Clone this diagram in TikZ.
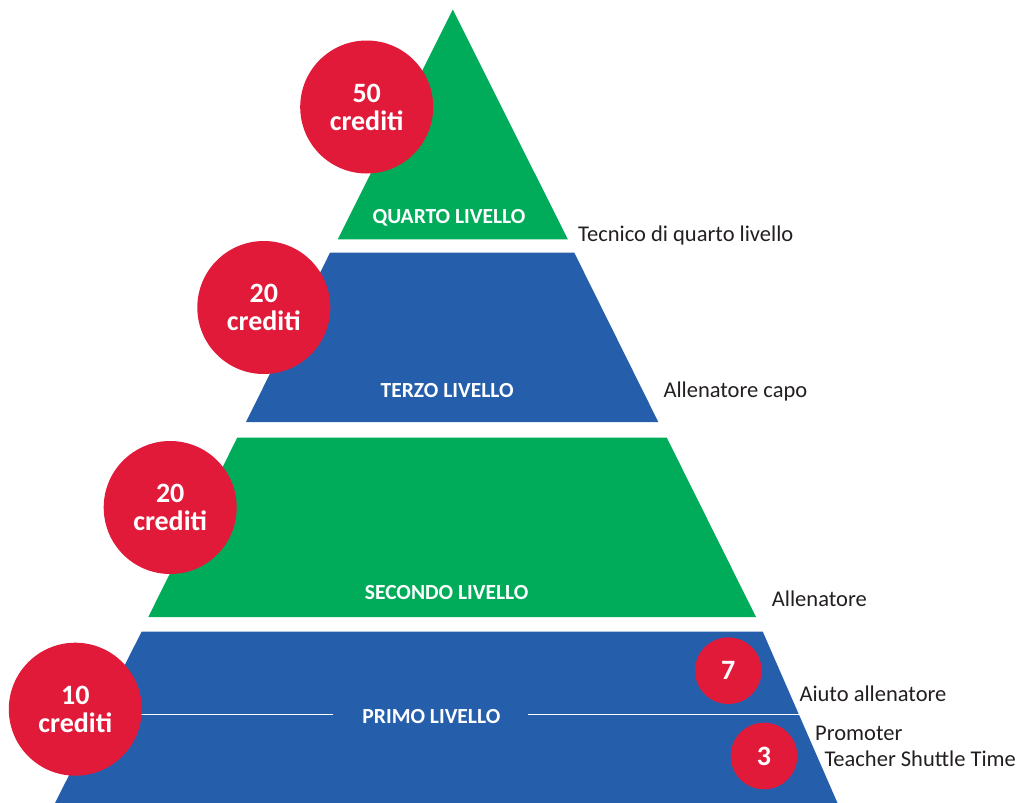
\documentclass[tikz,border=0pt]{standalone}
\usepackage{fontspec}
\setmainfont{Carlito}
\definecolor{lvgreen}{RGB}{0,171,89}
\definecolor{lvblue}{RGB}{37,94,171}
\definecolor{credred}{RGB}{226,26,58}
\definecolor{txtgray}{RGB}{35,31,32}
\begin{document}
\begin{tikzpicture}[x=1pt,y=-1pt,
  lvl/.style={text=white,font=\bfseries\fontsize{21.5}{22}\selectfont,inner sep=0pt},
  role/.style={text=txtgray,font=\fontsize{22.5}{23}\selectfont,inner sep=0pt,anchor=base west},
  credit/.style={circle,fill=credred,text=white,inner sep=0pt,minimum size=133pt,align=center,font=\bfseries\fontsize{28}{28}\selectfont},
  smallcredit/.style={circle,fill=credred,text=white,inner sep=0pt,minimum size=66.6pt,font=\bfseries\fontsize{28}{28}\selectfont},
  sep/.style={draw=white,line width=1.2pt}]
\useasboundingbox (0,0) rectangle (1021,803);
% levels
\fill[lvgreen] (452.8,9.5) -- (567.8,239.3) -- (337.8,239.3) -- cycle;
\fill[lvblue] (330,252.7) -- (574.3,252.7) -- (658.3,422) -- (246,422) -- cycle;
\fill[lvgreen] (237.3,437.5) -- (666.7,437.5) -- (756,617) -- (148.3,617) -- cycle;
\fill[lvblue] (141.7,631.5) -- (762.7,631.5) -- (837.5,803) -- (55,803) -- cycle;
% separator line in first level
\coordinate (s1) at (100,714.7);
\coordinate (s2) at (333,714.7);
\coordinate (s3) at (528,714.7);
\coordinate (s4) at (798.5,714.7);
\draw[sep] (s1) -- (s2);
\draw[sep] (s3) -- (s4);
% level labels
\node[lvl] (l4) at (449,217.5) {QUARTO LIVELLO};
\node[lvl] (l3) at (447.2,390.3) {TERZO LIVELLO};
\node[lvl] (l2) at (446.7,592.5) {SECONDO LIVELLO};
\node[lvl] (l1) at (431.4,716.3) {PRIMO LIVELLO};
% credits
\node[credit] (c4) at (366.7,107) {50\\crediti};
\node[credit] (c3) at (263.8,307.5) {20\\crediti};
\node[credit] (c2) at (170.2,507.5) {20\\crediti};
\node[credit] (c1) at (75.3,709.2) {10\\crediti};
\node[smallcredit] (c7) at (728.3,670.7) {7};
\node[smallcredit] (c3b) at (764,756) {3};
% roles
\node[role] (r4) at (578,241.7) {Tecnico di quarto livello};
\node[role] (r3) at (663.3,397.7) {Allenatore capo};
\node[role] (r2) at (771.7,606) {Allenatore};
\node[role] (r1a) at (799.3,701) {Aiuto allenatore};
\node[role] (r1b) at (815,740) {Promoter};
\node[role] (r1c) at (824.3,766.7) {Teacher Shuttle Time};
\end{tikzpicture}
\end{document}
